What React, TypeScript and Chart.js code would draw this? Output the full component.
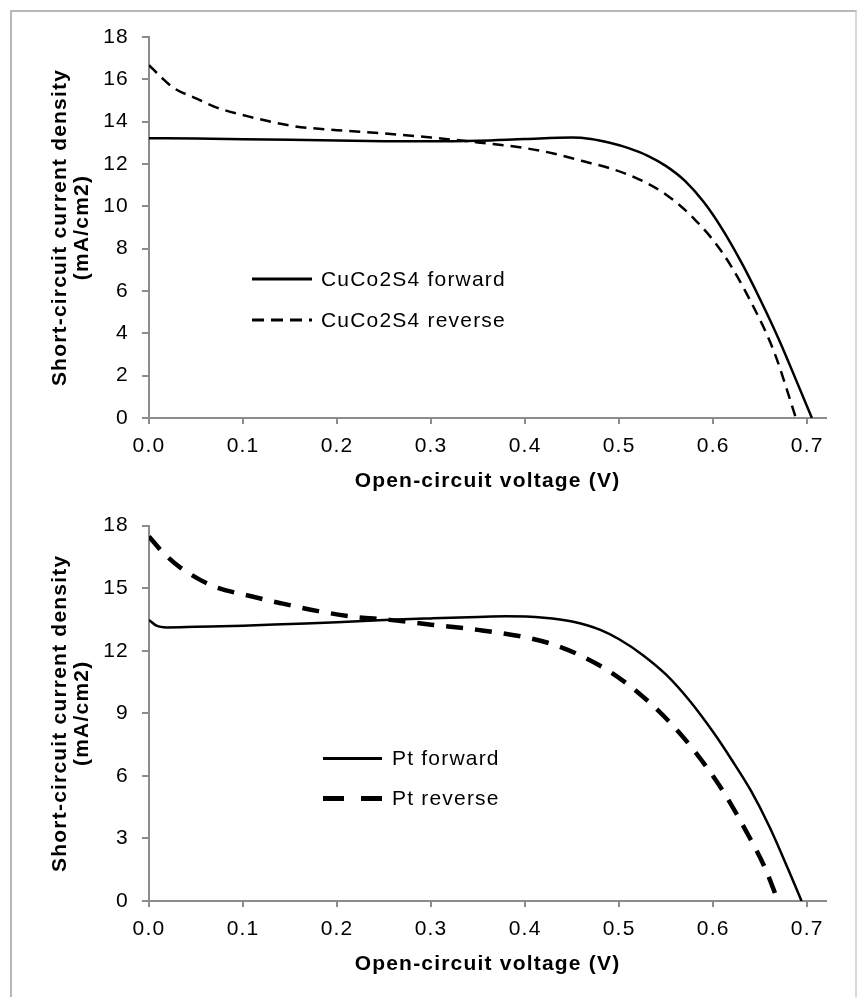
import React, { useEffect, useRef } from 'react';
import { Chart, registerables } from 'chart.js';

Chart.register(...registerables);

// ---------- Data ----------
// Top panel: CuCo2S4 counter electrode
const cuForwardV = [0, 0.05, 0.1, 0.15, 0.2, 0.25, 0.3, 0.35, 0.4, 0.45, 0.47, 0.49, 0.51, 0.53, 0.55, 0.57, 0.59, 0.61, 0.63, 0.65, 0.67, 0.69, 0.705];
const cuForwardJ = [13.22, 13.2, 13.17, 13.14, 13.11, 13.08, 13.07, 13.1, 13.18, 13.25, 13.18, 13.0, 12.75, 12.4, 11.9, 11.2, 10.2, 8.9, 7.35, 5.6, 3.7, 1.6, 0];

const cuReverseV = [0, 0.013, 0.026, 0.05, 0.07, 0.11, 0.152, 0.2, 0.246, 0.3, 0.35, 0.4, 0.43, 0.46, 0.49, 0.52, 0.55, 0.58, 0.61, 0.64, 0.665, 0.688];
const cuReverseJ = [16.67, 16.1, 15.6, 15.1, 14.7, 14.2, 13.8, 13.6, 13.46, 13.25, 13.02, 12.75, 12.5, 12.15, 11.8, 11.3, 10.55, 9.4, 7.8, 5.5, 3.1, 0];

// Bottom panel: Pt counter electrode
const ptForwardV = [0, 0.008, 0.019, 0.05, 0.1, 0.15, 0.2, 0.256, 0.3, 0.35, 0.38, 0.42, 0.45, 0.48, 0.5, 0.525, 0.55, 0.575, 0.6, 0.62, 0.64, 0.66, 0.68, 0.694];
const ptForwardJ = [13.48, 13.2, 13.12, 13.15, 13.2, 13.28, 13.36, 13.48, 13.55, 13.62, 13.65, 13.58, 13.4, 13.0, 12.55, 11.8, 10.85, 9.6, 8.1, 6.75, 5.3, 3.55, 1.5, 0];

const ptReverseV = [0, 0.015, 0.033, 0.068, 0.104, 0.14, 0.18, 0.217, 0.256, 0.3, 0.35, 0.4, 0.43, 0.46, 0.49, 0.52, 0.55, 0.58, 0.61, 0.635, 0.655, 0.669];
const ptReverseJ = [17.48, 16.7, 16.0, 15.1, 14.66, 14.28, 13.9, 13.63, 13.48, 13.25, 13.0, 12.65, 12.3, 11.75, 11.0, 10.0, 8.75, 7.2, 5.3, 3.35, 1.6, 0];

const topLabels = ['CuCo2S4 forward', 'CuCo2S4 reverse'];
const bottomLabels = ['Pt forward', 'Pt reverse'];

const xTitle = 'Open-circuit voltage (V)';
const yTitle = ['Short-circuit current density', '(mA/cm2)'];

const xMin = 0;
const xMax = 0.72;
const xStep = 0.1;
const topYMax = 18;
const topYStep = 2;
const bottomYMax = 18;
const bottomYStep = 3;

// ---------- Styling ----------
const FONT = '"Liberation Sans", Arial, Helvetica, sans-serif';
const AXIS_COLOR = '#8c8c8c';

const spacingPlugin = {
  id: 'letterSpacing',
  beforeDraw(chart: any) {
    try {
      (chart.ctx as any).letterSpacing = '1.2px';
    } catch (e) {}
  },
};

const legendPlugin = {
  id: 'inlineLegend',
  afterDatasetsDraw(chart: any, _args: any, opts: any) {
    const { ctx, chartArea } = chart;
    ctx.save();
    try {
      (ctx as any).letterSpacing = '1.2px';
    } catch (e) {}
    opts.items.forEach((it: any, i: number) => {
      const y = chartArea.top + opts.y + i * opts.gap;
      ctx.beginPath();
      ctx.setLineDash(it.dash);
      ctx.lineWidth = it.width;
      ctx.strokeStyle = '#000';
      ctx.lineCap = 'butt';
      ctx.moveTo(chartArea.left + opts.x0, y);
      ctx.lineTo(chartArea.left + opts.x1, y);
      ctx.stroke();
      ctx.setLineDash([]);
      ctx.fillStyle = '#000';
      ctx.font = `21px ${FONT}`;
      ctx.textBaseline = 'middle';
      ctx.textAlign = 'left';
      ctx.fillText(chart.data.datasets[i].label, chartArea.left + opts.tx, y + 1);
    });
    ctx.restore();
  },
};

function makeSeries(v: number[], j: number[]) {
  return v.map((x, i) => ({ x, y: j[i] }));
}

type PanelProps = {
  top: number;
  height: number;
  padTop: number;
  padBottom: number;
  datasets: any[];
  yMax: number;
  yStep: number;
  legend: any;
};

function Panel({ top, height, padTop, padBottom, datasets, yMax, yStep, legend }: PanelProps) {
  const ref = useRef<HTMLCanvasElement | null>(null);
  useEffect(() => {
    if (!ref.current) return;
    const chart = new Chart(ref.current, {
      type: 'line',
      data: { datasets },
      plugins: [spacingPlugin, legendPlugin],
      options: {
        responsive: false,
        animation: false,
        devicePixelRatio: 1,
        layout: { padding: { left: 49, right: 31, top: padTop, bottom: padBottom } },
        plugins: {
          legend: { display: false },
          tooltip: { enabled: false },
          inlineLegend: legend,
        } as any,
        elements: { point: { radius: 0 } },
        scales: {
          x: {
            type: 'linear',
            min: xMin,
            max: xMax,
            fullSize: false,
            ticks: {
              stepSize: xStep,
              includeBounds: false,
              autoSkip: false,
              maxRotation: 0,
              padding: 10,
              color: '#000',
              font: { family: FONT, size: 21 },
              callback: (v: any) => Number(v).toFixed(1),
            },
            grid: { drawOnChartArea: false, drawTicks: true, tickLength: 6, color: AXIS_COLOR, lineWidth: 2 },
            border: { display: true, color: AXIS_COLOR, width: 2 },
            title: {
              display: true,
              text: xTitle,
              color: '#000',
              padding: 0,
              font: { family: FONT, size: 21, weight: 'bold', lineHeight: 1.05 },
            },
            afterFit: (s: any) => {
              s.height = 74;
            },
          } as any,
          y: {
            type: 'linear',
            min: 0,
            max: yMax,
            ticks: {
              stepSize: yStep,
              padding: 13,
              color: '#000',
              font: { family: FONT, size: 21 },
            },
            grid: { drawOnChartArea: false, drawTicks: true, tickLength: 7, color: AXIS_COLOR, lineWidth: 2 },
            border: { display: true, color: AXIS_COLOR, width: 2 },
            title: {
              display: true,
              text: yTitle,
              color: '#000',
              padding: 0,
              font: { family: FONT, size: 21, weight: 'bold', lineHeight: 1.05 },
            },
            afterFit: (s: any) => {
              s.width = 100;
            },
          } as any,
        },
      },
    });
    return () => chart.destroy();
  }, []);
  return (
    <canvas
      ref={ref}
      width={857}
      height={height}
      style={{ position: 'absolute', left: 0, top, width: 857, height }}
    />
  );
}

export default function App() {
  const topDatasets = [
    {
      label: topLabels[0],
      data: makeSeries(cuForwardV, cuForwardJ),
      borderColor: '#000',
      borderWidth: 2.5,
      cubicInterpolationMode: 'monotone',
      fill: false,
      pointRadius: 0,
    },
    {
      label: topLabels[1],
      data: makeSeries(cuReverseV, cuReverseJ),
      borderColor: '#000',
      borderWidth: 2.5,
      borderDash: [11, 7],
      cubicInterpolationMode: 'monotone',
      fill: false,
      pointRadius: 0,
    },
  ];
  const bottomDatasets = [
    {
      label: bottomLabels[0],
      data: makeSeries(ptForwardV, ptForwardJ),
      borderColor: '#000',
      borderWidth: 2.5,
      cubicInterpolationMode: 'monotone',
      fill: false,
      pointRadius: 0,
    },
    {
      label: bottomLabels[1],
      data: makeSeries(ptReverseV, ptReverseJ),
      borderColor: '#000',
      borderWidth: 4.5,
      borderDash: [17, 12],
      cubicInterpolationMode: 'monotone',
      fill: false,
      pointRadius: 0,
    },
  ];
  const topLegend = {
    x0: 103,
    x1: 163,
    tx: 172,
    y: 242,
    gap: 41,
    items: [
      { dash: [], width: 3 },
      { dash: [12, 7], width: 3 },
    ],
  };
  const bottomLegend = {
    x0: 174,
    x1: 233,
    tx: 243,
    y: 233,
    gap: 40,
    items: [
      { dash: [], width: 3 },
      { dash: [21, 17], width: 5 },
    ],
  };
  return (
    <div style={{ position: 'absolute', left: 0, top: 0, width: 857, height: 997, background: '#fff', overflow: 'hidden' }}>
      <div
        style={{
          position: 'absolute',
          left: 10,
          top: 10,
          width: 843,
          height: 1000,
          borderLeft: '2px solid #b8b8b8',
          borderTop: '2px solid #b8b8b8',
          borderRight: '2px solid #d8d8d8',
        }}
      />
      <Panel top={0} height={500} padTop={37} padBottom={8} datasets={topDatasets} yMax={topYMax} yStep={topYStep} legend={topLegend} />
      <Panel top={500} height={497} padTop={19} padBottom={22} datasets={bottomDatasets} yMax={bottomYMax} yStep={bottomYStep} legend={bottomLegend} />
    </div>
  );
}
